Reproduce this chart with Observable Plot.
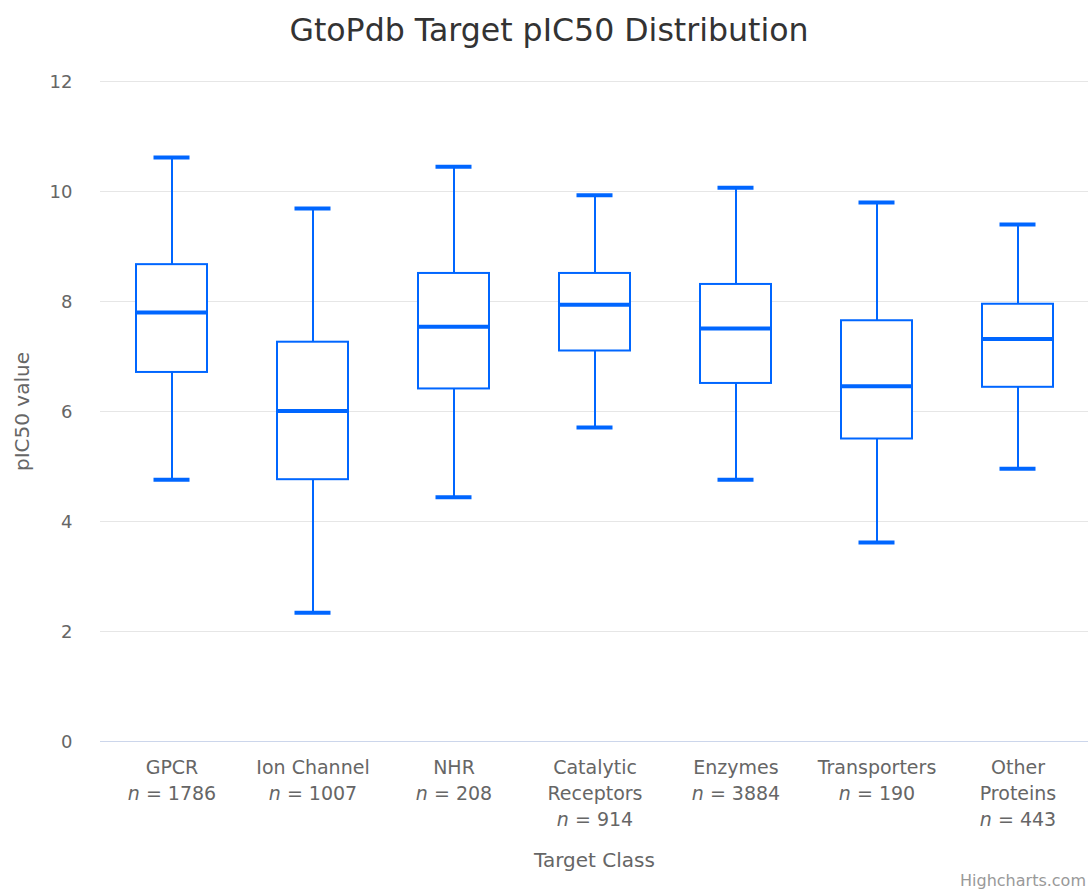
<!DOCTYPE html>
<html>
<head>
<meta charset="utf-8">
<script src="https://cdn.jsdelivr.net/npm/d3@7"></script>
<script src="https://cdn.jsdelivr.net/npm/@observablehq/plot@0.6"></script>
<style>
  html, body { margin: 0; padding: 0; background: #fff; overflow: hidden; }
  #wrap { position: relative; width: 1088px; height: 890px; overflow: hidden; font-family: "DejaVu Sans", sans-serif; }
  #title { position: absolute; left: 0; top: 12px; width: 1098px; text-align: center; font-size: 31.6px; line-height: 36px; color: #333; z-index: 2; }
  #credit { position: absolute; right: 2px; top: 872px; font-size: 16px; line-height: 18px; color: #999; white-space: nowrap; z-index: 2; }
  #chart { position: absolute; left: 0; top: 0; }
</style>
</head>
<body>
<div id="wrap">
  <div id="title">GtoPdb Target pIC50 Distribution</div>
  <div id="chart"></div>
  <div id="credit">Highcharts.com</div>
</div>
<script>
// ---- data ----
const categories = ["GPCR", "Ion Channel", "NHR", "Catalytic Receptors", "Enzymes", "Transporters", "Other Proteins"];
const tickNames  = ["GPCR", "Ion Channel", "NHR", "Catalytic\nReceptors", "Enzymes", "Transporters", "Other\nProteins"];
const counts     = [1786, 1007, 208, 914, 3884, 190, 443];
const low        = [4.76, 2.34, 4.44, 5.71, 4.76, 3.62, 4.96];
const q1         = [6.71, 4.76, 6.41, 7.10, 6.51, 5.50, 6.44];
const median     = [7.80, 6.01, 7.54, 7.94, 7.51, 6.46, 7.32];
const q3         = [8.67, 7.26, 8.51, 8.51, 8.31, 7.65, 7.95];
const high       = [10.62, 9.69, 10.45, 9.93, 10.07, 9.80, 9.40];
const yTicks     = [0, 2, 4, 6, 8, 10, 12];
const xTitle = "Target Class";
const yTitle = "pIC50 value";

const data = categories.map((c, i) => ({
  cat: c, label: tickNames[i], n: counts[i],
  low: low[i], q1: q1[i], median: median[i], q3: q3[i], high: high[i]
}));
const labelOf = new Map(data.map(d => [d.cat, `${d.label}\nn = ${d.n}`]));

const blue = "#0066ff";

const svg = Plot.plot({
  width: 1088,
  height: 890,
  marginLeft: 100,
  marginRight: 0,
  marginTop: 81,
  marginBottom: 149,
  style: { fontFamily: "DejaVu Sans, sans-serif", fontSize: "18px", color: "#666", background: "transparent", overflow: "visible" },
  x: { type: "band", domain: categories, paddingInner: 0.5, paddingOuter: 0.25, align: 0.5 },
  y: { domain: [0, 12] },
  marks: [
    Plot.gridY(yTicks.filter(t => t > 0), { stroke: "#e6e6e6", strokeOpacity: 1, strokeWidth: 1 }),
    Plot.ruleY([0], { stroke: "#ccd6eb", strokeWidth: 1 }),
    Plot.axisY({ ticks: yTicks, tickSize: 0, tickPadding: 28, fontSize: 18, dy: 1, label: null }),
    Plot.axisX({
      tickSize: 0, tickPadding: 14, fontSize: 19, lineHeight: 1.37, label: null,
      tickFormat: c => labelOf.get(c)
    }),
    Plot.text([yTitle], { frameAnchor: "left", dx: -78, rotate: -90, textAnchor: "middle", lineAnchor: "middle", fontSize: 20, fill: "#666" }),
    Plot.text([xTitle], { frameAnchor: "bottom", dy: 119, textAnchor: "middle", lineAnchor: "middle", fontSize: 20, fill: "#666" }),
    // whiskers
    Plot.ruleX(data, { x: "cat", y1: "low", y2: "q1", stroke: blue, strokeWidth: 2 }),
    Plot.ruleX(data, { x: "cat", y1: "q3", y2: "high", stroke: blue, strokeWidth: 2 }),
    // boxes
    Plot.barY(data, { x: "cat", y1: "q1", y2: "q3", fill: "white", stroke: blue, strokeWidth: 2 }),
    // medians
    Plot.tickY(data, { x: "cat", y: "median", stroke: blue, strokeWidth: 4 }),
    // caps
    Plot.tickY(data, { x: "cat", y: "low", stroke: blue, strokeWidth: 4, insetLeft: 17.5, insetRight: 17.5 }),
    Plot.tickY(data, { x: "cat", y: "high", stroke: blue, strokeWidth: 4, insetLeft: 17.5, insetRight: 17.5 })
  ]
});

// italic "n" in the count lines
const ns = "http://www.w3.org/2000/svg";
svg.querySelectorAll('[aria-label="x-axis tick label"] tspan').forEach(t => {
  const s = t.textContent;
  if (s.startsWith("n = ")) {
    t.textContent = "";
    const it = document.createElementNS(ns, "tspan");
    it.setAttribute("font-style", "italic");
    it.textContent = "n";
    t.appendChild(it);
    t.appendChild(document.createTextNode(s.slice(1)));
  }
});

document.getElementById("chart").appendChild(svg);
</script>
</body>
</html>
